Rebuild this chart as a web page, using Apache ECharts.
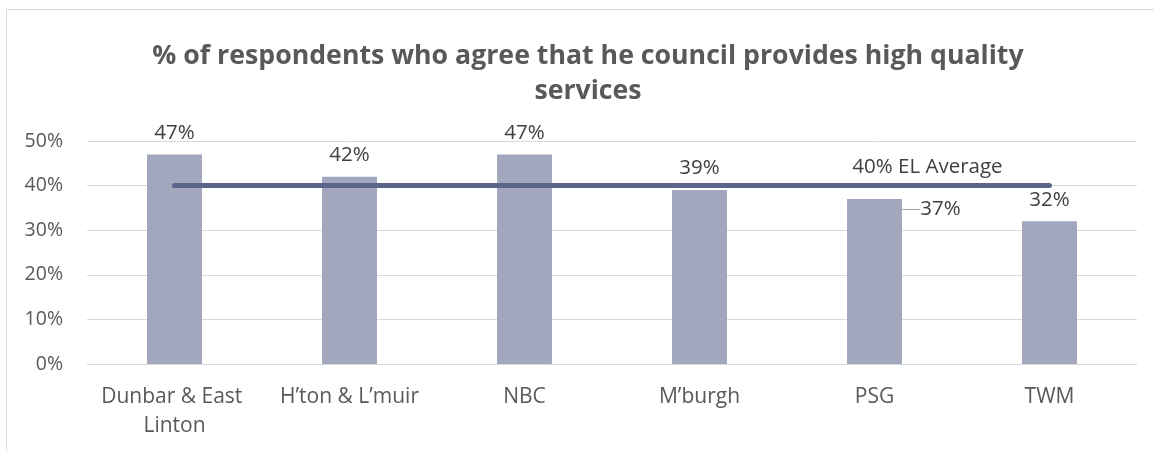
<!DOCTYPE html>
<html>
<head>
<meta charset="utf-8">
<script src="https://cdn.jsdelivr.net/npm/echarts@6/dist/echarts.min.js"></script>
<style>
  html, body { margin: 0; padding: 0; background: #fff; }
  #chart { width: 1154px; height: 451px; }
</style>
</head>
<body>
<div id="chart"></div>
<script>
    "use strict";

    var categories = ['Dunbar & East Linton', 'H\u2019ton & L\u2019muir', 'NBC', 'M\u2019burgh', 'PSG', 'TWM'];
    var agreeValues = [47, 42, 47, 39, 37, 32];
    var averageValues = [40, 40, 40, 40, 40, 40];
    var averageLabel = '40% EL Average';
    var yTicks = { min: 0, max: 50, interval: 10 };

    var textColor = '#595959';
    var fontFam = '"Open Sans", "Liberation Sans", sans-serif';

    // solo la barra de PSG lleva linea guia en su etiqueta
    var barData = agreeValues.map(function (v, i) {
        return { value: v, labelLine: { show: i === 4 } };
    });

    var chart = echarts.init(document.getElementById('chart'));
    chart.setOption({
        animation: false,
        title: {
            text: '% of respondents who agree that he council provides high quality\nservices',
            left: 583, // centro del titulo
            top: 34,
            textAlign: 'center',
            textStyle: {
                fontFamily: fontFam,
                fontWeight: 'bold',
                fontSize: 26.7,
                lineHeight: 35,
                color: textColor
            }
        },
        graphic: [{ // marco del grafico
            type: 'rect',
            shape: { x: 6.5, y: 9.5, width: 1160, height: 460 },
            style: { fill: 'none', stroke: '#d9d9d9', lineWidth: 1 },
            silent: true
        }],
        grid: { left: 87, right: 17, top: 141, bottom: 87 },
        xAxis: {
            type: 'category',
            data: categories,
            axisTick: { show: false },
            axisLine: { lineStyle: { color: '#d9d9d9', width: 1 } },
            axisLabel: {
                color: textColor,
                fontFamily: fontFam,
                fontSize: 21,
                margin: 19,
                lineHeight: 29,
                width: 175,
                overflow: 'break',
                interval: 0
            }
        },
        yAxis: {
            type: 'value',
            min: yTicks.min,
            max: yTicks.max,
            interval: yTicks.interval,
            axisLine: { show: false },
            axisTick: { show: false },
            splitLine: { lineStyle: { color: '#d9d9d9', width: 1 } },
            axisLabel: {
                formatter: '{value}%',
                color: textColor,
                fontFamily: fontFam,
                fontSize: 19.5,
                margin: 24
            }
        },
        series: [{
            name: 'Agree',
            type: 'bar',
            data: barData,
            barWidth: '31.4%',
            itemStyle: { color: '#a2a7be' },
            label: {
                show: true,
                position: 'top',
                distance: 11,
                formatter: '{c}%',
                color: '#404040',
                fontFamily: fontFam,
                fontSize: 20.5
            },
            labelLine: { show: false, lineStyle: { color: '#a6a6a6', width: 1 } },
            labelLayout: function (params) {
                if (params.dataIndex === 4) { // etiqueta desplazada de PSG
                    return { dx: 66, dy: 32 };
                }
                return {};
            },
            z: 2
        }, {
            name: 'EL Average',
            type: 'line',
            data: averageValues,
            symbol: 'circle',
            symbolSize: 1,
            showSymbol: true,
            itemStyle: { color: '#5b6489' },
            lineStyle: { color: '#5b6489', width: 5, cap: 'round' },
            label: {
                show: true,
                position: 'top',
                distance: 7,
                color: '#404040',
                fontFamily: fontFam,
                fontSize: 20.5,
                offset: [53, 0],
                formatter: function (p) {
                    return p.dataIndex === 4 ? averageLabel : '';
                }
            },
            z: 3
        }]
    });
</script>
</body>
</html>
